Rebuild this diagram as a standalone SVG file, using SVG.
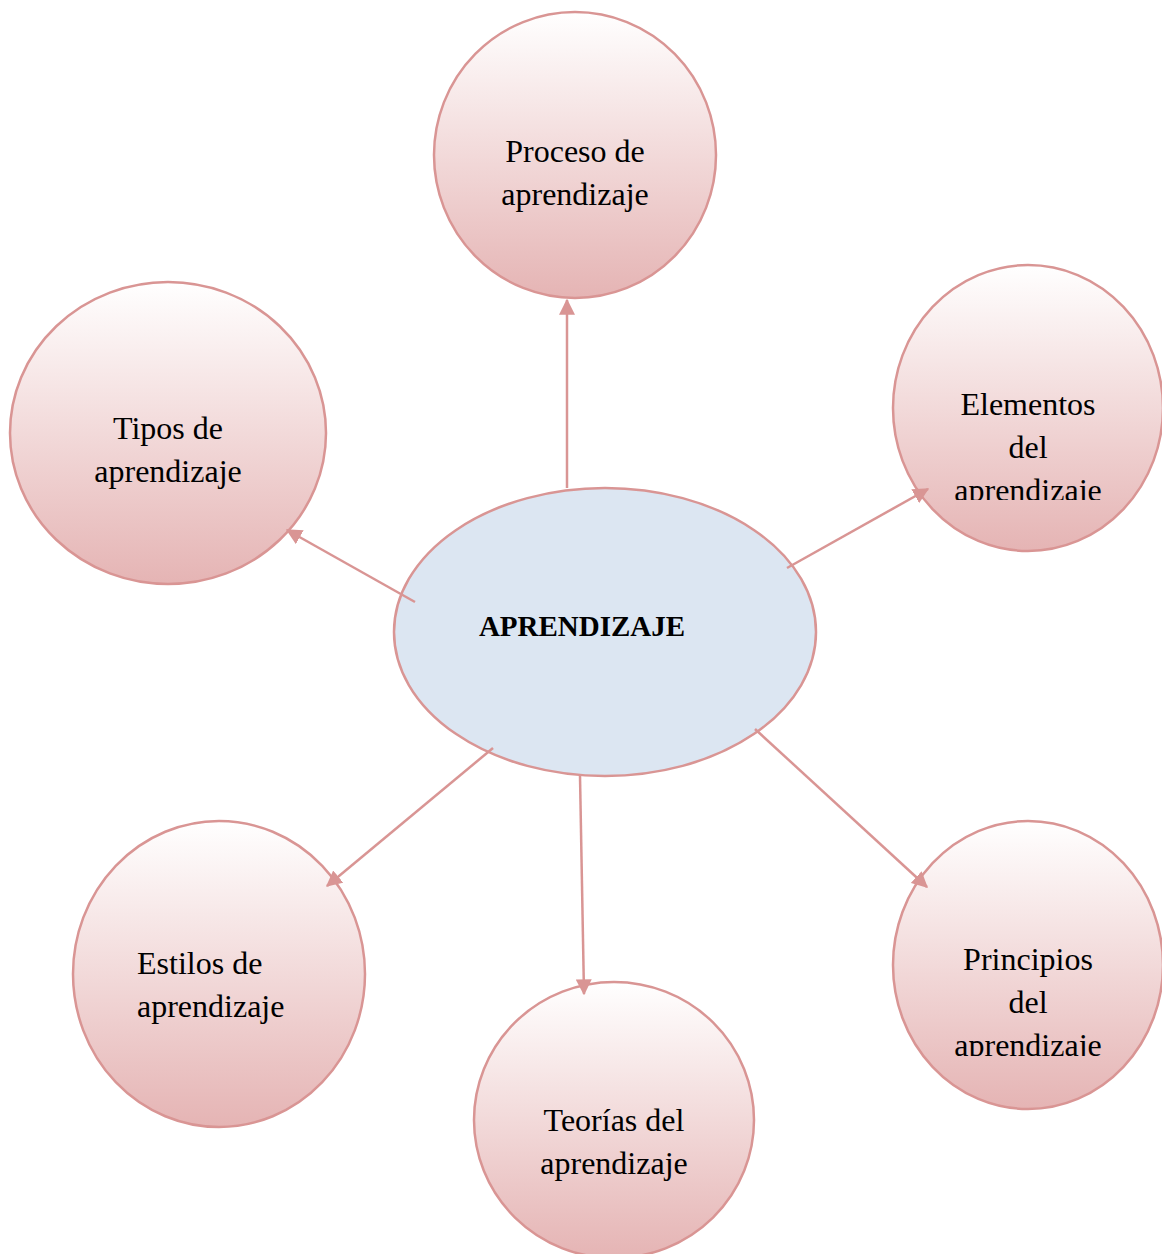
<svg xmlns="http://www.w3.org/2000/svg" width="1162" height="1254" viewBox="0 0 1162 1254">
<defs>
<linearGradient id="pink" x1="0" y1="0" x2="0" y2="1">
<stop offset="0" stop-color="#ffffff"/>
<stop offset="1" stop-color="#e5b4b4"/>
</linearGradient>
<marker id="arrow" viewBox="0 0 12 12" refX="11" refY="6" markerWidth="16" markerHeight="16" markerUnits="userSpaceOnUse" orient="auto">
<path d="M0,0 L12,6 L0,12 Z" fill="#d99594"/>
</marker>
<clipPath id="clipE"><rect x="880" y="250" width="290" height="250"/></clipPath>
<clipPath id="clipP"><rect x="880" y="810" width="290" height="246"/></clipPath>
</defs>
<style>
.node{fill:url(#pink);stroke:#d99594;stroke-width:2.5}
.center{fill:#dce6f2;stroke:#d99594;stroke-width:2.5}
.t{font-family:"Liberation Serif","Times New Roman",serif;font-size:32px;fill:#000;text-anchor:middle}
.l{text-anchor:start}
.b{font-family:"Liberation Serif","Times New Roman",serif;font-size:29px;font-weight:bold;fill:#000;text-anchor:middle}
.c{stroke:#d99594;stroke-width:2.5;fill:none;marker-end:url(#arrow)}
</style>
<g id="proceso">
<ellipse class="node" cx="575" cy="155" rx="141" ry="143"/>
<text class="t" x="575" y="162">Proceso de</text>
<text class="t" x="575" y="205">aprendizaje</text>
</g>
<g id="tipos">
<ellipse class="node" cx="168" cy="433" rx="158" ry="151"/>
<text class="t" x="168" y="439">Tipos de</text>
<text class="t" x="168" y="482">aprendizaje</text>
</g>
<g id="elementos">
<ellipse class="node" cx="1028" cy="408" rx="135" ry="143"/>
<g clip-path="url(#clipE)">
<text class="t" x="1028" y="415">Elementos</text>
<text class="t" x="1028" y="458">del</text>
<text class="t" x="1028" y="501">aprendizaje</text>
</g>
</g>
<g id="aprendizaje">
<ellipse class="center" cx="605" cy="632" rx="211" ry="144"/>
<text class="b" x="582" y="636">APRENDIZAJE</text>
</g>
<g id="estilos">
<ellipse class="node" cx="219" cy="974" rx="146" ry="153"/>
<text class="t l" x="137" y="974">Estilos de</text>
<text class="t l" x="137" y="1017">aprendizaje</text>
</g>
<g id="teorias">
<ellipse class="node" cx="614" cy="1120" rx="140" ry="138"/>
<text class="t" x="614" y="1131">Teorías del</text>
<text class="t" x="614" y="1174">aprendizaje</text>
</g>
<g id="principios">
<ellipse class="node" cx="1028" cy="965" rx="135" ry="144"/>
<g clip-path="url(#clipP)">
<text class="t" x="1028" y="970">Principios</text>
<text class="t" x="1028" y="1013">del</text>
<text class="t" x="1028" y="1056">aprendizaje</text>
</g>
</g>
<g id="connectors">
<line class="c" x1="567" y1="488" x2="567" y2="300"/>
<line class="c" x1="415" y1="602" x2="287" y2="530"/>
<line class="c" x1="787" y1="568" x2="928" y2="489"/>
<line class="c" x1="493" y1="748" x2="327" y2="886"/>
<line class="c" x1="580" y1="776" x2="584" y2="994"/>
<line class="c" x1="755" y1="729" x2="927" y2="887"/>
</g>
</svg>
